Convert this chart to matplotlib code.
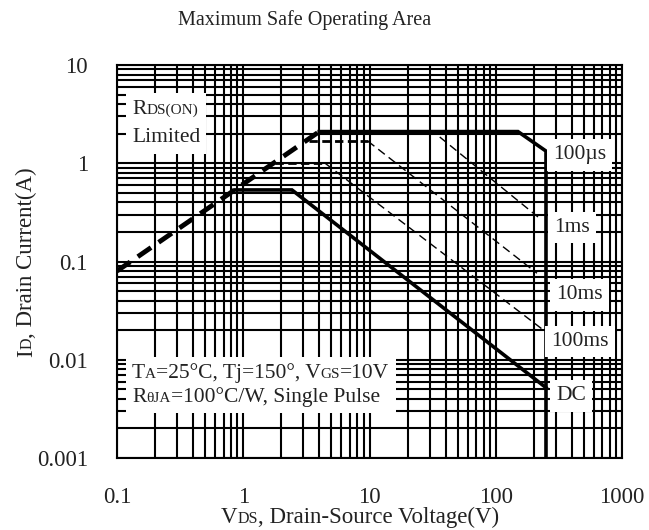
import matplotlib
matplotlib.use("Agg")
import matplotlib.pyplot as plt
import numpy as np
from matplotlib.ticker import LogLocator, NullFormatter
from matplotlib.offsetbox import TextArea, HPacker, VPacker, AnnotationBbox

plt.rcParams['font.family'] = ['Liberation Serif', 'DejaVu Serif']

# data
rds_v = [0.1, 4.0]
rds_i = [0.08, 2.1]

us100_v = [4.0, 150, 250, 250]
us100_i = [2.1, 2.1, 1.33, 0.001]

ms1_v = [36, 216]
ms1_i = [1.85, 0.284]

ms10_flat_v = [3.3, 9.7]
ms10_flat_i = [1.68, 1.68]
ms10_v = [9.7, 212]
ms10_i = [1.68, 0.076]

ms100_flat_v = [1.78, 4.45]
ms100_flat_i = [1.0, 1.0]
ms100_v = [4.45, 238]
ms100_i = [1.0, 0.0201]

dc_v = [0.86, 2.43, 250]
dc_i = [0.535, 0.535, 0.0052]

x_ticks = [0.1, 1, 10, 100, 1000]
x_tick_labels = ['0.1', '1', '10', '100', '1000']
y_ticks = [0.001, 0.01, 0.1, 1, 10]
y_tick_labels = ['0.001', '0.01', '0.1', '1', '10']

W, H = 649, 530
fig = plt.figure(figsize=(W / 100, H / 100), dpi=100)
ax = fig.add_axes([117 / W, 1 - 458 / H, (622 - 117) / W, (458 - 65) / H])

ax.set_xscale('log')
ax.set_yscale('log')
ax.set_xlim(0.1, 1000)
ax.set_ylim(0.001, 10)

ax.xaxis.set_minor_locator(LogLocator(base=10, subs=np.arange(2, 10), numticks=100))
ax.yaxis.set_minor_locator(LogLocator(base=10, subs=np.arange(2, 10), numticks=100))
ax.xaxis.set_minor_formatter(NullFormatter())
ax.yaxis.set_minor_formatter(NullFormatter())
ax.set_xticks(x_ticks, labels=x_tick_labels)
ax.set_yticks(y_ticks, labels=y_tick_labels)
ax.tick_params(which='both', length=0, labelsize=16.5, labelcolor='#222222')
ax.tick_params(axis='x', pad=21)
ax.tick_params(axis='y', pad=21)

ax.set_axisbelow(True)
ax.grid(which='both', color='black', lw=1.5)
for sp in ax.spines.values():
    sp.set_color('black')
    sp.set_linewidth(1.5)

# curves
ax.plot(rds_v, rds_i, color='black', lw=3.5, linestyle=(0, (3.3, 1.9)), zorder=3)
ax.plot(us100_v, us100_i, color='black', lw=2.6, solid_joinstyle='miter', zorder=3)
ax.plot(ms1_v, ms1_i, color='black', lw=1.0, linestyle=(0, (6, 3.5)), zorder=3)
ax.plot(ms10_flat_v, ms10_flat_i, color='black', lw=2.0, linestyle=(0, (3, 1.6)), zorder=3)
ax.plot(ms10_v, ms10_i, color='black', lw=1.0, linestyle=(0, (6, 3.5)), zorder=3)
ax.plot(ms100_flat_v, ms100_flat_i, color='black', lw=2.0, linestyle=(0, (3, 1.6)), zorder=3)
ax.plot(ms100_v, ms100_i, color='black', lw=1.0, linestyle=(0, (6, 3.5)), zorder=3)
ax.plot(dc_v, dc_i, color='black', lw=2.6, solid_joinstyle='miter', zorder=3)

BIG = 15.5
SMALL = 11


def label_box(lines, xy, align, sep=5):
    rows = []
    for line in lines:
        parts = [TextArea(s, textprops=dict(fontsize=fs, color='#222222')) for s, fs in line]
        rows.append(HPacker(children=parts, align='baseline', pad=0, sep=0))
    box = VPacker(children=rows, align='left', pad=0, sep=sep)
    ab = AnnotationBbox(box, xy, xycoords='axes fraction', box_alignment=align,
                        frameon=True, pad=0.45,
                        bboxprops=dict(fc='white', ec='none'), zorder=5)
    ax.add_artist(ab)


label_box([[('R', BIG), ('DS(ON)', SMALL)], [('Limited', BIG)]], (0.0297, 0.912), (0, 1), sep=7)
label_box([[('T', BIG), ('A', SMALL), ('=25°C, Tj=150°, V', BIG), ('GS', SMALL), ('=10V', BIG)],
           [('R', BIG), ('θJA', SMALL), ('=100°C/W, Single Pulse', BIG)]],
          (0.0297, 0.242), (0, 1), sep=3)
label_box([[('100µs', BIG)]], (0.863, 0.771), (0, 0.5))
label_box([[('1ms', BIG)]], (0.866, 0.586), (0, 0.5))
label_box([[('10ms', BIG)]], (0.870, 0.415), (0, 0.5))
label_box([[('100ms', BIG)]], (0.860, 0.296), (0, 0.5))
label_box([[('DC', BIG)]], (0.870, 0.158), (0, 0.5))

# title
fig.text(305 / W, 1 - 20 / H, 'Maximum Safe Operating Area', ha='center', va='center',
         fontsize=14.5, color='#222222')


def rich_text(x, y, pieces, rotation=0):
    # x, y in pixels from the bottom-left corner, centred along the text direction
    r = fig.canvas.get_renderer()
    texts = []
    for s, size in pieces:
        t = fig.text(0, 0, s, fontsize=size, rotation=rotation, rotation_mode='anchor',
                     ha='left', va='baseline', color='#222222')
        texts.append(t)
    sizes = []
    for t in texts:
        bb = t.get_window_extent(r)
        sizes.append(bb.width if rotation == 0 else bb.height)
    pos = -sum(sizes) / 2
    for t, s in zip(texts, sizes):
        if rotation == 0:
            t.set_position(((x + pos) / W, y / H))
        else:
            t.set_position((x / W, (y + pos) / H))
        pos += s


rich_text(360, H - 523, [('V', 16.5), ('DS', 11.5), (', Drain-Source Voltage(V)', 16.5)])
rich_text(32, H - 262, [('I', 16.5), ('D', 11.5), (', Drain Current(A)', 16.5)], rotation=90)

fig.savefig('out.png', dpi=100)
